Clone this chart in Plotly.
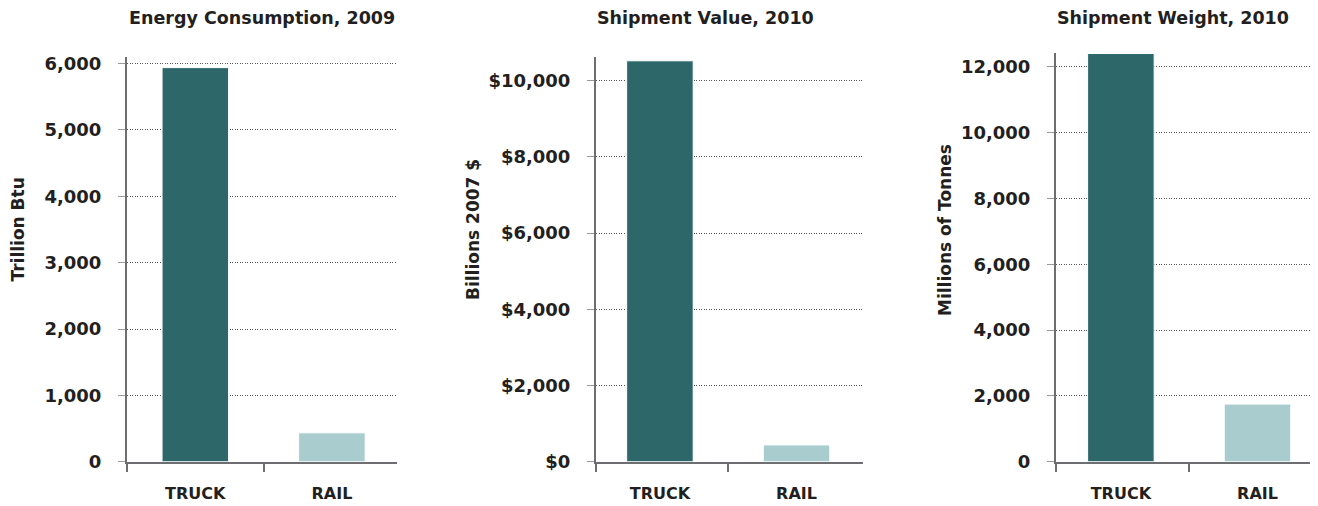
import plotly.graph_objects as go

# ---- data ----
categories = ["TRUCK", "RAIL"]
energy_2009 = [5940, 435]          # Trillion Btu
value_2010 = [10520, 440]          # Billions 2007 $
weight_2010 = [12400, 1750]        # Millions of Tonnes

titles = ["Energy Consumption, 2009", "Shipment Value, 2010", "Shipment Weight, 2010"]
ytitles = ["Trillion Btu", "Billions 2007 $", "Millions of Tonnes"]

# ---- style ----
W, H = 1318, 506
OFF = 8  # page body margin compensation
TXT = "#231F20"
AX = "#6D6E71"
C_TRUCK = "#2D6769"
C_RAIL = "#A9CCCE"
FONT = "DejaVu Sans"

def px_x(p):
    return (p - OFF) / W

def px_y(p):
    return 1 - (p - OFF) / H

fig = go.Figure()

series = [energy_2009, value_2010, weight_2010]
pos = [0, 1]
for i, vals in enumerate(series):
    sfx = "" if i == 0 else str(i + 1)
    fig.add_trace(go.Bar(
        x=pos, y=vals, width=0.487,
        marker=dict(color=[C_TRUCK, C_RAIL], line=dict(color="white", width=1)),
        xaxis="x" + sfx, yaxis="y" + sfx, showlegend=False, hoverinfo="skip",
    ))

# panel geometry (pixels)
x_dom = [(127, 397), (596, 862.7), (1056, 1318)]
x_start = [-0.5, -0.468, -0.475]
px_per_cat = 136.6
y_zero = 461.7
y_top = [57, 57, 53]
y_range = [6100, 10620, 12416]
y_dtick = [1000, 2000, 2000]
y_prefix = ["", "$", ""]

layout = dict(
    template="none",
    width=W, height=H,
    margin=dict(l=0, r=0, t=0, b=0, pad=0),
    paper_bgcolor="white", plot_bgcolor="white",
    font=dict(family=FONT, color=TXT, size=16, weight="bold"),
    annotations=[],
)

for i in range(3):
    sfx = "" if i == 0 else str(i + 1)
    x0, x1 = x_dom[i]
    rng_end = x_start[i] + (x1 - x0) / px_per_cat
    layout["xaxis" + sfx] = dict(
        domain=[px_x(x0), px_x(x1)],
        range=[x_start[i], rng_end],
        anchor="y" + sfx,
        automargin=False,
        tickmode="array", tickvals=pos, ticktext=categories,
        ticks="", showgrid=False, zeroline=False,
        showline=True, linecolor=AX, linewidth=2,
        tickfont=dict(size=16, family=FONT, color=TXT, weight="bold"),
        ticklabelstandoff=16,
        minor=dict(tickmode="array", tickvals=[x_start[i], 0.5], ticks="outside",
                   ticklen=8, tickwidth=2, tickcolor=AX, showgrid=False),
        fixedrange=True,
    )
    layout["yaxis" + sfx] = dict(
        domain=[px_y(y_zero), px_y(y_top[i])],
        range=[0, y_range[i]],
        anchor="x" + sfx,
        automargin=False,
        tickmode="linear", tick0=0, dtick=y_dtick[i],
        tickprefix=y_prefix[i], tickformat=",",
        ticks="outside", ticklen=7, tickwidth=1, tickcolor="#9A9A9A",
        showgrid=True, gridcolor="#555555", gridwidth=1, griddash="1px,1.5px",
        zeroline=False,
        showline=True, linecolor=AX, linewidth=2,
        tickfont=dict(size=18, family=FONT, color=TXT, weight="bold"),
        ticklabelstandoff=13,
        fixedrange=True,
    )

title_left = [127, 595, 1055]
ytitle_x = [17.5, 473, 945]
for i in range(3):
    layout["annotations"].append(dict(
        text=titles[i], xref="paper", yref="paper",
        x=px_x(title_left[i]), y=px_y(18), xanchor="left", yanchor="middle",
        showarrow=False, font=dict(size=17.5, family=FONT, color=TXT, weight="bold"),
    ))
    layout["annotations"].append(dict(
        text=ytitles[i], xref="paper", yref="paper",
        x=px_x(ytitle_x[i]), y=px_y(230), xanchor="center", yanchor="middle",
        textangle=-90, showarrow=False,
        font=dict(size=17, family=FONT, color=TXT, weight="bold"),
    ))

fig.update_layout(**layout)
fig.write_html("out.html")
